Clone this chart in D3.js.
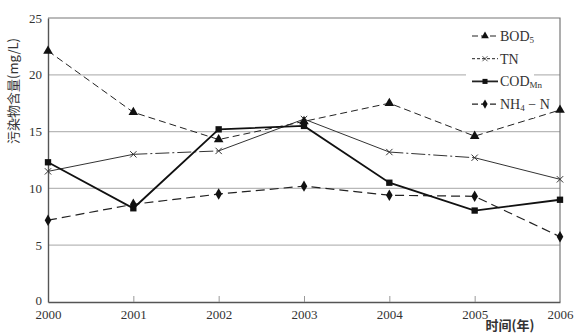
<!DOCTYPE html>
<html>
<head>
<meta charset="utf-8">
<script src="https://cdn.jsdelivr.net/npm/d3@7"></script>
<style>
  body { margin: 0; background: #fff; }
  text { font-family: "Liberation Serif", "DejaVu Serif", serif; fill: #333; }
  .cjk { font-family: "Noto Sans CJK SC", sans-serif; }
</style>
</head>
<body>
<div class="chart"></div>
<script>
var years = [2000, 2001, 2002, 2003, 2004, 2005, 2006];
var yTicks = [0, 5, 10, 15, 20, 25];

var bod = [22.1, 16.7, 14.3, 15.9, 17.5, 14.6, 16.9];
var tn = [11.5, 13.0, 13.3, 16.1, 13.2, 12.7, 10.8];
var cod = [12.3, 8.25, 15.2, 15.5, 10.5, 8.05, 9.0];
var nh4 = [7.2, 8.6, 9.5, 10.2, 9.4, 9.3, 5.75];

var margin = {top: 18, right: 28, bottom: 32, left: 48};
var width = 588 - margin.left - margin.right;
var height = 334 - margin.top - margin.bottom;

var svg = d3.select(".chart").append("svg")
    .attr("width", 588)
    .attr("height", 334)
  .append("g")
    .attr("transform", "translate(" + margin.left + "," + margin.top + ")");

var x = d3.scaleLinear().domain([2000, 2006]).range([0, width]);
var y = d3.scaleLinear().domain([0, 25]).range([height, 0]);

// grid lines
svg.selectAll(".grid")
    .data(yTicks.filter(function(d) { return d > 0 && d < 25; }))
  .enter().append("line")
    .attr("x1", 0).attr("x2", width)
    .attr("y1", function(d) { return y(d); })
    .attr("y2", function(d) { return y(d); })
    .attr("stroke", "#b8b8b8").attr("stroke-width", 1.2);

// frame top + right
svg.append("path")
    .attr("d", "M0," + y(25) + "H" + width + "V" + height)
    .attr("fill", "none").attr("stroke", "#777").attr("stroke-width", 1.2);

// x axis, ticks pointing inward
var xAxis = d3.axisBottom(x).tickValues(years).tickFormat(d3.format("d"))
    .tickSizeInner(-6).tickSizeOuter(0).tickPadding(8);
var gx = svg.append("g")
    .attr("transform", "translate(0," + height + ")")
    .call(xAxis);
gx.select(".domain").attr("stroke", "#555").attr("stroke-width", 1.4);
gx.selectAll(".tick line").attr("stroke", "#999");
gx.selectAll(".tick text").attr("font-size", 13).attr("fill", "#333")
    .attr("font-family", "Liberation Serif");
gx.selectAll(".tick").filter(function(d) { return d === 2000 || d === 2006; })
    .select("line").remove();

var yAxis = d3.axisLeft(y).tickValues(yTicks).tickSize(0).tickPadding(6);
var gy = svg.append("g").call(yAxis);
gy.select(".domain").attr("stroke", "#555").attr("stroke-width", 1.4);
gy.selectAll(".tick text").attr("font-size", 13).attr("fill", "#333")
    .attr("font-family", "Liberation Serif");
gy.selectAll(".tick").filter(function(d) { return d === 0; })
    .select("text").attr("dy", "0.2em");

// axis titles
svg.append("text")
    .attr("class", "cjk")
    .attr("transform", "translate(" + (-30) + "," + 73 + ") rotate(-90)")
    .attr("text-anchor", "middle")
    .attr("font-size", 13)
    .text("污染物含量(mg/L)");

svg.append("text")
    .attr("class", "cjk")
    .attr("x", 462).attr("y", 312)
    .attr("text-anchor", "middle")
    .attr("font-size", 13).attr("font-weight", "bold")
    .text("时间(年)");

var line = d3.line()
    .x(function(d, i) { return x(years[i]); })
    .y(function(d) { return y(d); });

function pts(vals) {
  return vals.map(function(v, i) { return {x: years[i], y: v}; });
}

var tri = d3.symbol().type(d3.symbolTriangle).size(40);
var sq = d3.symbol().type(d3.symbolSquare).size(40);
var dia = d3.symbol().type(d3.symbolDiamond).size(38);
var crs = d3.symbol().type(d3.symbolX).size(28);

// TN: thin line, some segments dash-dot
var tnDash = [null, "14,3,2,3", null, null, "14,3,2,3", null];
tnDash.forEach(function(dash, i) {
  svg.append("path")
      .attr("d", "M" + x(years[i]) + "," + y(tn[i]) + "L" + x(years[i + 1]) + "," + y(tn[i + 1]))
      .attr("fill", "none").attr("stroke", "#333").attr("stroke-width", 1)
      .attr("stroke-dasharray", dash);
});

svg.append("path").datum(bod).attr("d", line)
    .attr("fill", "none").attr("stroke", "#222").attr("stroke-width", 1)
    .attr("stroke-dasharray", "7,4");

svg.append("path").datum(nh4).attr("d", line)
    .attr("fill", "none").attr("stroke", "#222").attr("stroke-width", 1.2)
    .attr("stroke-dasharray", "9,5");

svg.append("path").datum(cod).attr("d", line)
    .attr("fill", "none").attr("stroke", "#111").attr("stroke-width", 1.8);

function markers(data, sym, cls, stroke) {
  svg.selectAll("." + cls)
      .data(pts(data))
    .enter().append("path")
      .attr("class", cls)
      .attr("d", sym)
      .attr("transform", function(d) { return "translate(" + x(d.x) + "," + y(d.y) + ")"; })
      .attr("fill", stroke ? "none" : "#111")
      .attr("stroke", stroke ? "#333" : "none")
      .attr("stroke-width", 1);
}
markers(tn, crs, "tnm", true);
markers(bod, tri, "bodm", false);
markers(cod, sq, "codm", false);
markers(nh4, dia, "nh4m", false);

// legend
var legendItems = [
  {name: "BOD", sub: "5", dash: "6,3", sw: 1, sym: tri, hollow: false},
  {name: "TN", sub: "", dash: "3,2", sw: 1, sym: crs, hollow: true},
  {name: "COD", sub: "Mn", dash: null, sw: 1.8, sym: sq, hollow: false},
  {name: "NH", sub: "4", tail: " − N", dash: "6,3", sw: 1.2, sym: dia, hollow: false}
];

var lg = svg.append("g").attr("transform", "translate(418,0)");
lg.append("rect").attr("x", 0).attr("y", 4).attr("width", 68).attr("height", 96)
    .attr("fill", "#fff");

var li = lg.selectAll(".li").data(legendItems).enter().append("g")
    .attr("transform", function(d, i) { return "translate(0," + (18 + i * 22.7) + ")"; });
li.append("line").attr("x1", 6).attr("x2", 32).attr("y1", 0).attr("y2", 0)
    .attr("stroke", "#222")
    .attr("stroke-width", function(d) { return d.sw; })
    .attr("stroke-dasharray", function(d) { return d.dash; });
li.append("path")
    .attr("d", function(d) { return d.sym(); })
    .attr("transform", "translate(19,0) scale(0.8)")
    .attr("fill", function(d) { return d.hollow ? "none" : "#111"; })
    .attr("stroke", function(d) { return d.hollow ? "#333" : "none"; });
var lt = li.append("text").attr("x", 34).attr("y", 5).attr("font-size", 14);
lt.append("tspan").text(function(d) { return d.name; });
lt.append("tspan").attr("font-size", 9).attr("dy", 2)
    .text(function(d) { return d.sub; });
lt.append("tspan").attr("dy", -2)
    .text(function(d) { return d.tail || ""; });
</script>
</body>
</html>
